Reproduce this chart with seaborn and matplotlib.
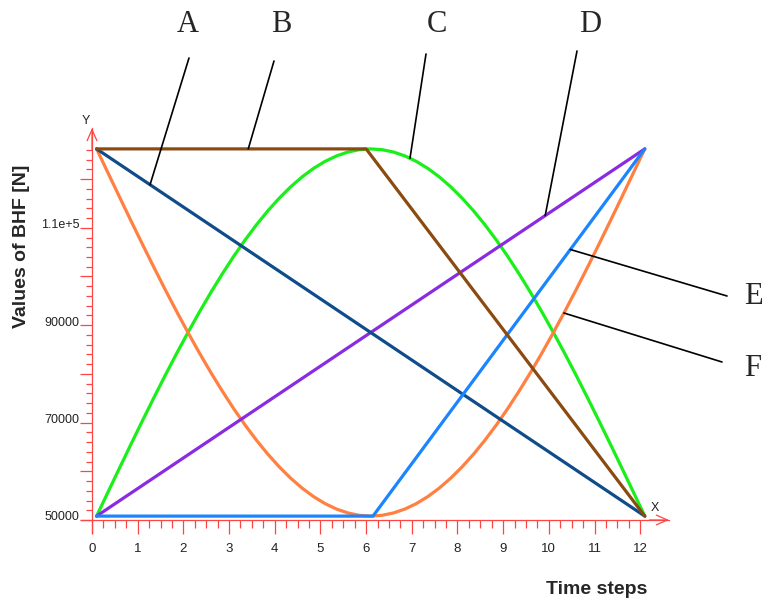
import numpy as np
import pandas as pd
import matplotlib
matplotlib.use("Agg")
import matplotlib.pyplot as plt
import matplotlib.transforms as mtransforms
from matplotlib.ticker import FixedLocator, FuncFormatter
import seaborn as sns

# ---- data ----
a_x = [0.1, 12.1]
a_y = [126200, 50800]
b_x = [0.1, 6.0, 12.1]
b_y = [126200, 126200, 50800]
c_x = [0.1, 0.35, 0.6, 0.85, 1.1, 1.35, 1.6, 1.85, 2.1, 2.35, 2.6, 2.85,
       3.1, 3.35, 3.6, 3.85, 4.1, 4.35, 4.6, 4.85, 5.1, 5.35, 5.6, 5.85,
       6.1, 6.35, 6.6, 6.85, 7.1, 7.35, 7.6, 7.85, 8.1, 8.35, 8.6, 8.85,
       9.1, 9.35, 9.6, 9.85, 10.1, 10.35, 10.6, 10.85, 11.1, 11.35, 11.6,
       11.85, 12.1]
c_y = [50800, 55730, 60640, 65510, 70310, 75030, 79660, 84150, 88500,
       92690, 96700, 100510, 104120, 107490, 110620, 113500, 116100, 118430,
       120460, 122200, 123630, 124750, 125550, 126040, 126200, 126040, 125550,
       124750, 123630, 122200, 120460, 118430, 116100, 113500, 110620, 107490,
       104120, 100510, 96700, 92690, 88500, 84150, 79660, 75030, 70310, 65510,
       60640, 55730, 50800]
d_x = [0.1, 12.1]
d_y = [50800, 126200]
e_x = [0.1, 6.15, 12.1]
e_y = [50800, 50800, 126200]
f_x = c_x
f_y = [126200, 121270, 116360, 111490, 106690, 101970, 97340, 92850, 88500,
       84310, 80300, 76490, 72880, 69510, 66380, 63500, 60900, 58570, 56540,
       54800, 53370, 52250, 51450, 50960, 50800, 50960, 51450, 52250, 53370,
       54800, 56540, 58570, 60900, 63500, 66380, 69510, 72880, 76490, 80300,
       84310, 88500, 92850, 97340, 101970, 106690, 111490, 116360, 121270,
       126200]

x_ticks = list(range(0, 13))
y_major = [50000, 60000, 70000, 80000, 90000, 100000, 110000, 120000]
y_labels = {50000: "50000", 70000: "70000", 90000: "90000", 110000: "1.1e+5"}
curve_labels = ["A", "B", "C", "D", "E", "F"]

series = {"A": (a_x, a_y), "B": (b_x, b_y), "C": (c_x, c_y),
          "D": (d_x, d_y), "E": (e_x, e_y), "F": (f_x, f_y)}
df = pd.concat([pd.DataFrame({"t": x, "bhf": y, "curve": k})
                for k, (x, y) in series.items()], ignore_index=True)

colors = {"A": "#0f4c8a", "B": "#8b4a10", "C": "#1aef1a",
          "D": "#8a2be2", "E": "#1a85ff", "F": "#ff8040"}
RED = "#ff4444"

sns.set_style("white")
W, H = 763, 602
fig = plt.figure(figsize=(W / 100, H / 100), dpi=100)
ax = fig.add_axes([80.6 / W, (H - 533) / H, (669 - 80.6) / W, (533 - 128) / H])

sns.lineplot(data=df, x="t", y="bhf", hue="curve",
             hue_order=["C", "F", "D", "A", "E", "B"], palette=colors,
             estimator=None, sort=False, legend=False, linewidth=2.3, ax=ax)

ax.set_xlim(-0.25, 12.63)
ax.set_ylim(47330, 130490)
ax.set_xlabel("")
ax.set_ylabel("")
for s in ["top", "right"]:
    ax.spines[s].set_visible(False)
ax.spines["left"].set_position(("data", 0))
ax.spines["bottom"].set_position(("data", 50000))
for s in ["left", "bottom"]:
    ax.spines[s].set_color(RED)
    ax.spines[s].set_linewidth(0.9)

ax.xaxis.set_major_locator(FixedLocator(x_ticks))
ax.xaxis.set_minor_locator(FixedLocator(np.arange(0, 12.01, 0.25)))
ax.yaxis.set_major_locator(FixedLocator(y_major))
ax.yaxis.set_minor_locator(FixedLocator(np.arange(50000, 126001, 2000)))
ax.yaxis.set_major_formatter(FuncFormatter(lambda v, p: y_labels.get(int(round(v)), "")))
ax.tick_params(which="both", bottom=True, left=True, top=False, right=False)
ax.tick_params(axis="x", which="major", direction="out", length=10, width=0.9,
               color=RED, labelsize=9.5, pad=6.5, labelcolor="#222222")
ax.tick_params(axis="x", which="minor", direction="out", length=5.5, width=0.9, color=RED)
ax.tick_params(axis="y", which="major", direction="out", length=8.4, width=0.9,
               color=RED, labelsize=9, pad=0.5, labelcolor="#222222")
ax.tick_params(axis="y", which="minor", direction="out", length=4, width=0.9, color=RED)
for lab in ax.get_xticklabels() + ax.get_yticklabels():
    lab.set_fontfamily("Liberation Sans")
shift = mtransforms.ScaledTranslation(0, 4 / 100, fig.dpi_scale_trans)
for lab in ax.get_yticklabels():
    lab.set_transform(lab.get_transform() + shift)

# axis arrows
ax.annotate("", xy=(12.63, 50000), xytext=(12.2, 50000),
            arrowprops=dict(arrowstyle="->,head_length=0.8,head_width=0.35",
                            color=RED, lw=0.9, shrinkA=0, shrinkB=0))
ax.annotate("", xy=(0, 130490), xytext=(0, 126000),
            arrowprops=dict(arrowstyle="->,head_length=0.8,head_width=0.35",
                            color=RED, lw=0.9, shrinkA=0, shrinkB=0))
fig.text(655 / W, 1 - 508 / H, "X", fontsize=9, ha="center", va="center",
         family="Liberation Sans", color="#222222")
fig.text(86 / W, 1 - 121 / H, "Y", fontsize=9, ha="center", va="center",
         family="Liberation Sans", color="#222222")

# axis titles
fig.text(597 / W, 1 - 589 / H, "Time steps", fontsize=14, fontweight="bold",
         ha="center", va="center", family="Liberation Sans")
fig.text(22 / W, 1 - 246 / H, "Values of BHF [N]", fontsize=14, fontweight="bold",
         rotation=90, ha="center", va="center", family="Liberation Sans")

# curve labels with pointer lines
label_pos = {"A": (188, 25), "B": (281, 25), "C": (437, 25), "D": (590, 25),
             "E": (753, 296), "F": (753, 369)}
pointer_top = {"A": (189, 58), "B": (274, 61), "C": (426, 54), "D": (577, 51),
               "E": (727, 296), "F": (722, 362)}
pointer_x = {"A": 1.27, "B": 3.42, "C": 6.96, "D": 9.92, "E": 10.47, "F": 10.33}
for k in curve_labels:
    x, y = series[k]
    px = pointer_x[k]
    py = float(np.interp(px, x, y))
    tx, ty = pointer_top[k]
    ax.annotate("", xy=(px, py), xycoords="data", xytext=(tx, H - ty),
                textcoords="figure pixels", annotation_clip=False,
                arrowprops=dict(arrowstyle="-", color="black", lw=1.2,
                                shrinkA=0, shrinkB=0))
    lx, ly = label_pos[k]
    fig.text(lx / W, 1 - ly / H, k, fontsize=22, ha="center", va="center",
             family="Liberation Serif")

fig.savefig("out.png", dpi=100)
